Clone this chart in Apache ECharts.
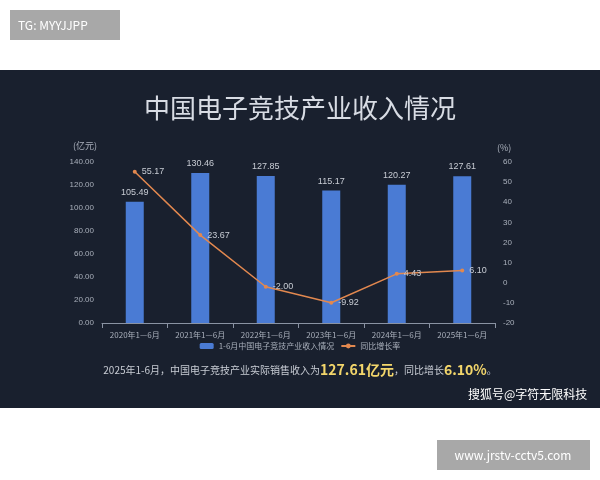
<!DOCTYPE html>
<html><head><meta charset="utf-8">
<script src="https://cdn.jsdelivr.net/npm/echarts@6/dist/echarts.min.js"></script>
<style>html,body{margin:0;padding:0;background:#fff}#c{width:600px;height:480px}</style>
</head><body><div id="c"></div>
<script>
const categories = ['2020年1—6月','2021年1—6月','2022年1—6月','2023年1—6月','2024年1—6月','2025年1—6月'];
const revenue = [105.49,130.46,127.85,115.17,120.27,127.61];
const growth = [55.17,23.67,-2.00,-9.92,4.43,6.10];
const leftTicks = {min:0,max:140,interval:20};
const rightTicks = {min:-20,max:60,interval:10};
const F = '"Noto Sans CJK SC","Noto Sans",sans-serif';
const chart = echarts.init(document.getElementById('c'));
chart.setOption({
  backgroundColor:'#ffffff',
  animation:false,
  graphic:[
    {type:'rect',z:-10,shape:{x:0,y:70,width:600,height:338},style:{fill:'#19202e'}},
    {type:'rect',shape:{x:10,y:10,width:110,height:30},style:{fill:'#a8a8a8'}},
    {type:'text',x:18,y:25,style:{text:'TG: MYYJJPP',fill:'#fff',font:'12px '+F,verticalAlign:'middle'}},
    {type:'text',x:300,y:108,style:{text:'中国电子竞技产业收入情况',fill:'#d8dce4',font:'26px '+F,align:'center',verticalAlign:'middle'}},
    {type:'text',x:73,y:146,style:{text:'(亿元)',fill:'#aab0bc',font:'9px '+F,verticalAlign:'middle'}},
    {type:'text',x:497,y:148,style:{text:'(%)',fill:'#aab0bc',font:'9px '+F,verticalAlign:'middle'}},
    {type:'text',x:300,y:370,style:{rich:{a:{fill:'#c8ccd4',font:'10px '+F},b:{fill:'#f3d66b',font:'bold 14px '+F}},text:'{a|2025年1-6月，中国电子竞技产业实际销售收入为}{b|127.61亿元}{a|，同比增长}{b|6.10%}{a|。}',align:'center',verticalAlign:'middle'}},
    {type:'text',x:468,y:394,style:{text:'搜狐号@字符无限科技',fill:'#ffffff',font:'12px '+F,verticalAlign:'middle'}},
    {type:'rect',shape:{x:437,y:440,width:153,height:30},style:{fill:'#a8a8a8'}},
    {type:'text',x:513,y:455,style:{text:'www.jrstv-cctv5.com',fill:'#fff',font:'12px '+F,align:'center',verticalAlign:'middle'}}
  ],
  grid:{left:102,right:105,top:162,bottom:157},
  legend:{bottom:125,left:'center',itemWidth:14,itemHeight:6,itemGap:6,textStyle:{color:'#aab0bc',fontSize:8,fontFamily:F},
    data:['1-6月中国电子竞技产业收入情况','同比增长率']},
  xAxis:{type:'category',data:categories,axisTick:{show:true,lineStyle:{color:'#8a93a3'}},axisLine:{lineStyle:{color:'#8a93a3'}},
    axisLabel:{color:'#aab0bc',fontSize:8,fontFamily:F}},
  yAxis:[
    {type:'value',...leftTicks,splitLine:{show:false},axisLabel:{color:'#aab0bc',fontSize:8,formatter:v=>v.toFixed(2)}},
    {type:'value',...rightTicks,splitLine:{show:false},axisLabel:{color:'#aab0bc',fontSize:8}}
  ],
  series:[
    {name:'1-6月中国电子竞技产业收入情况',type:'bar',data:revenue,barWidth:18,itemStyle:{color:'#4a7bd4'},
      label:{show:true,position:'top',color:'#c8ccd4',fontSize:9,formatter:p=>p.value.toFixed(2)}},
    {name:'同比增长率',type:'line',yAxisIndex:1,data:growth,symbol:'circle',symbolSize:4,
      lineStyle:{color:'#e2884f',width:1.5},itemStyle:{color:'#e2884f'},
      label:{show:true,position:'right',color:'#c8ccd4',fontSize:9,formatter:p=>p.value.toFixed(2)}}
  ]
});
</script></body></html>
